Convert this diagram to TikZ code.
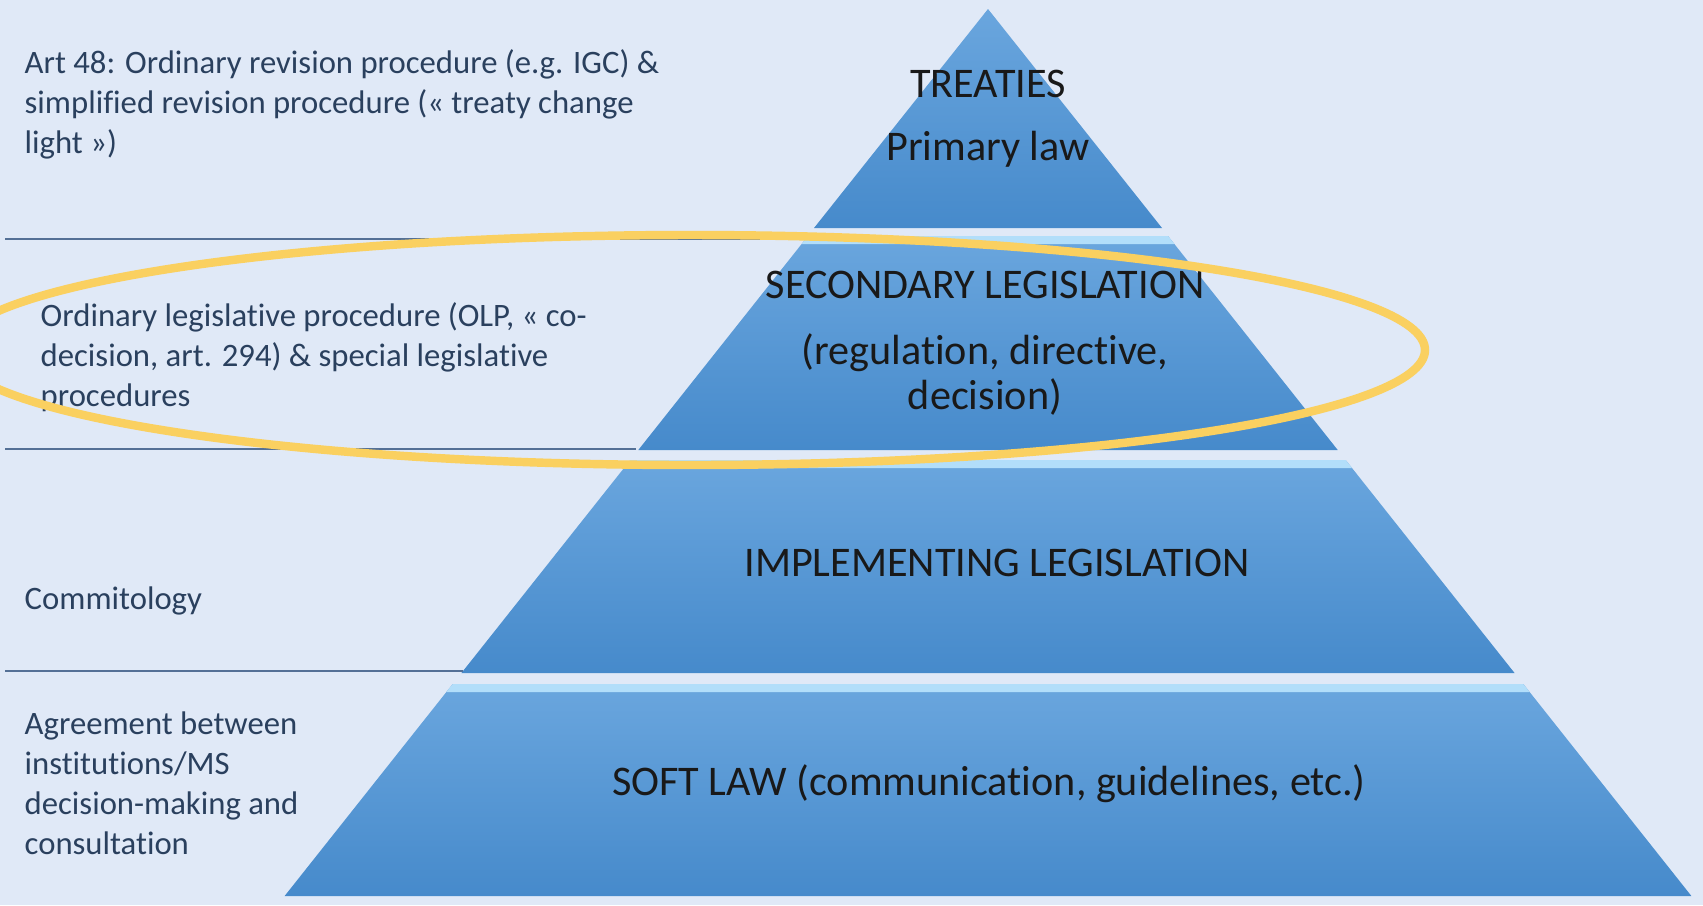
\documentclass[tikz,border=0pt]{standalone}
\usepackage{fontspec}
\setmainfont{Carlito}[Ligatures=NoCommon]

\definecolor{sky}{RGB}{224,233,247}
\definecolor{lvltop}{RGB}{106,166,222}
\definecolor{lvlbot}{RGB}{70,138,203}
\definecolor{bevel}{RGB}{178,222,250}
\definecolor{sidetext}{RGB}{42,64,94}
\definecolor{rule}{RGB}{84,112,150}
\definecolor{ring}{RGB}{250,208,96}

\begin{document}
\begin{tikzpicture}[x=0.01cm,y=-0.01cm,
    side/.style={anchor=west,align=left,inner sep=0pt,text=sidetext,font=\fontsize{9.3}{11.4}\selectfont},
    level/.style={align=center,text=black!90,font=\fontsize{12}{12.8}\selectfont},
    sep/.style={rule,line width=0.6pt}]
  % background
  \fill[sky] (0,0) rectangle (1703,905);
  \useasboundingbox (0,0) rectangle (1703,905);

  % pyramid: top triangle, then three bands with a light bevel on top
  \shade[top color=lvltop,bottom color=lvlbot] (988,9) -- (814,228) -- (1162,228) -- cycle;
  \foreach \t/\b in {236/450,460/673,684/896}{
    \shade[top color=lvltop,bottom color=lvlbot]
      ({988-0.793*(\t-9)},\t) -- ({988+0.793*(\t-9)},\t)
      -- ({988+0.793*(\b-9)},\b) -- ({988-0.793*(\b-9)},\b) -- cycle;
    \fill[bevel] ({988-0.793*(\t-9)},\t) -- ({988+0.793*(\t-9)},\t)
      -- ({988+0.793*(\t-1)},{\t+8}) -- ({988-0.793*(\t-1)},{\t+8}) -- cycle;
  }

  % separators on the left
  \coordinate (s1) at (5,239);
  \coordinate (e1) at (806,239);
  \coordinate (s2) at (5,449);
  \coordinate (e2) at (636,449);
  \coordinate (s3) at (5,671);
  \coordinate (e3) at (463,671);
  \draw[sep] (s1) -- (e1);
  \draw[sep] (s2) -- (e2);
  \draw[sep] (s3) -- (e3);

  % pyramid labels
  \node[level] (treaties) at (988,84) {TREATIES};
  \node[level] (primary) at (988,149) {Primary law};
  \node[level] (secondary) at (985,285) {SECONDARY LEGISLATION};
  \node[level] (kinds) at (985,374) {(regulation, directive,\\decision)};
  \node[level] (implementing) at (997,563) {IMPLEMENTING LEGISLATION};
  \node[level] (softlaw) at (989,784) {SOFT LAW (communication, guidelines, etc.)};

  % procedures on the left
  \node[side] (art48) at (24,104) {Art 48: Ordinary revision procedure (e.g. IGC) \&\\simplified revision procedure (« treaty change\\light »)};
  \node[side] (olp) at (40,357) {Ordinary legislative procedure (OLP, « co-\\decision, art. 294) \& special legislative\\procedures};
  \node[side] (commit) at (24,601) {Commitology};
  \node[side] (agree) at (24,783) {Agreement between\\institutions/MS\\decision-making and\\consultation};

  % highlight ring
  \draw[ring,line width=2.4pt] (690,350) ellipse [x radius=735,y radius=115];
\end{tikzpicture}
\end{document}
